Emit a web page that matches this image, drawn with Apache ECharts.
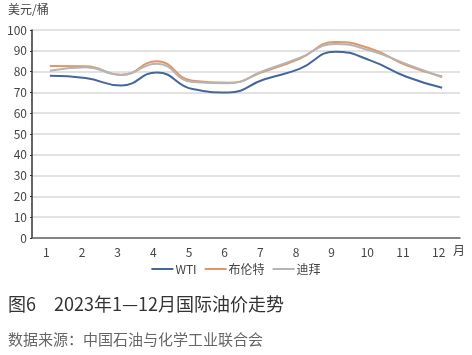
<!DOCTYPE html>
<html><head><meta charset="utf-8">
<script src="https://cdn.jsdelivr.net/npm/echarts@6/dist/echarts.min.js"></script>
<style>html,body{margin:0;padding:0;background:#fff}#c{width:472px;height:355px}</style>
</head><body><div id="c"></div>
<script>
var months = ['1','2','3','4','5','6','7','8','9','10','11','12'];
var wti = [78.0, 76.9, 73.3, 79.6, 71.6, 70.0, 76.2, 81.3, 89.6, 85.3, 77.5, 72.2];
var brent = [82.7, 82.6, 78.4, 85.0, 75.6, 74.6, 80.0, 86.2, 94.2, 91.0, 83.0, 77.6];
var dubai = [80.4, 82.1, 78.5, 83.8, 75.0, 74.4, 80.4, 86.6, 93.3, 90.0, 83.6, 77.3];
var yTicks = [0,10,20,30,40,50,60,70,80,90,100];
var font = '"Noto Sans CJK SC", "Noto Sans", sans-serif';
var chart = echarts.init(document.getElementById('c'));
chart.setOption({
  animation: false,
  textStyle: {fontFamily: font},
  grid: {left: 32, right: 12, top: 30, bottom: 117, containLabel: false},
  xAxis: {
    type: 'category', data: months, boundaryGap: true,
    name: '月', nameLocation: 'end', nameGap: -7,
    nameTextStyle: {color: '#444', fontSize: 12, verticalAlign: 'top', padding: [6,0,0,0]},
    axisLine: {lineStyle: {color: '#666', width: 1.5}},
    axisTick: {inside: true, length: 3, lineStyle: {color: '#555'}},
    axisLabel: {color: '#444', fontSize: 12, margin: 8, padding: [0,7,0,0]}
  },
  yAxis: {
    type: 'value', min: yTicks[0], max: yTicks[yTicks.length-1], interval: 10,
    axisLine: {show: true, lineStyle: {color: '#333', width: 1.5}},
    axisTick: {show: true, length: 2, lineStyle: {color: '#333'}},
    axisLabel: {color: '#444', fontSize: 12, margin: 5},
    splitLine: {lineStyle: {color: '#d9d9d9', width: 1.5}}
  },
  legend: {
    bottom: 75, left: 'center', itemWidth: 22, itemHeight: 2, itemGap: 8,
    icon: 'rect',
    textStyle: {color: '#444', fontSize: 12, padding: [0,0,0,-3]},
    data: ['WTI','布伦特','迪拜']
  },
  series: [
    {name: 'WTI', type: 'line', data: wti, smooth: 0.5, showSymbol: false, lineStyle: {color: '#44679b', width: 2}, itemStyle: {color: '#44679b'}},
    {name: '布伦特', type: 'line', data: brent, smooth: 0.5, showSymbol: false, lineStyle: {color: '#e39564', width: 2}, itemStyle: {color: '#e39564'}},
    {name: '迪拜', type: 'line', data: dubai, smooth: 0.5, showSymbol: false, lineStyle: {color: '#b5b5b5', width: 2}, itemStyle: {color: '#b5b5b5'}}
  ],
  graphic: [
    {type: 'text', left: 8, top: 3, style: {text: '美元/桶', fill: '#444', font: '12px ' + font}},
    {type: 'text', left: 8, top: 295, style: {text: '图6\u30002023年1—12月国际油价走势', fill: '#333', font: '18px ' + font}},
    {type: 'text', left: 8, top: 332, style: {text: '数据来源：中国石油与化学工业联合会', fill: '#666', font: '15px ' + font}}
  ]
});
</script></body></html>
